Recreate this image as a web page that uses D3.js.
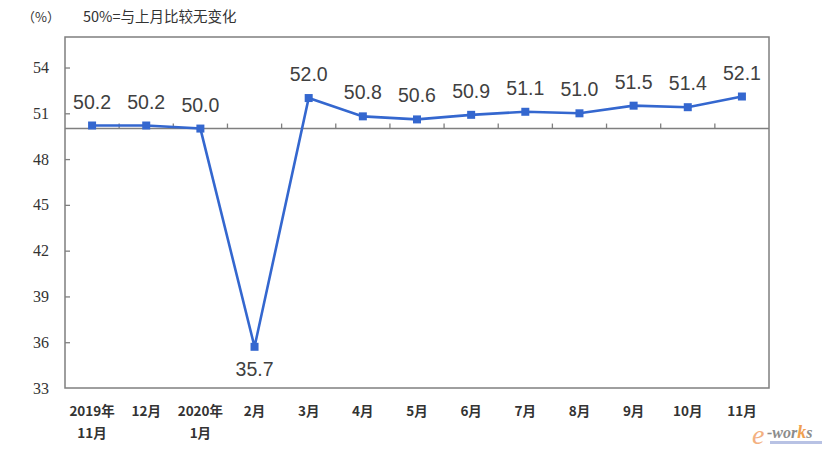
<!DOCTYPE html>
<html><head><meta charset="utf-8">
<script src="https://cdn.jsdelivr.net/npm/d3@7/dist/d3.min.js"></script>
<style>body{margin:0;background:#fff}</style>
</head><body>
<svg id="c" width="832" height="452"></svg>
<script>
const categories = [["2019年","11月"],["12月"],["2020年","1月"],["2月"],["3月"],["4月"],["5月"],["6月"],["7月"],["8月"],["9月"],["10月"],["11月"]];
const values = [50.2, 50.2, 50.0, 35.7, 52.0, 50.8, 50.6, 50.9, 51.1, 51.0, 51.5, 51.4, 52.1];
const yTicks = [33, 36, 39, 42, 45, 48, 51, 54];
const baseline = 50;
const titleUnit = "（%）";
const titleNote = "50%=与上月比较无变化";

const svg = d3.select("#c");
const L = 65, R = 769, T = 37, B = 388;
const x = d3.scaleBand().domain(d3.range(values.length)).range([L, R]);
const y = d3.scaleLinear().domain([33, 56]).range([B, T]);
const lineColor = "#3467cf";
const textColor = "#404040";

// title
svg.append("text").attr("x", 22).attr("y", 22).attr("font-family", "Noto Sans CJK SC").attr("font-size", 13).attr("fill", "#333").text(titleUnit);
svg.append("text").attr("x", 83).attr("y", 22).attr("font-family", "Noto Sans CJK SC").attr("font-size", 14.5).attr("fill", "#333").text(titleNote);

// frame
svg.append("rect").attr("x", L).attr("y", T).attr("width", R - L).attr("height", B - T)
  .attr("fill", "none").attr("stroke", "#7f7f7f").attr("stroke-width", 1.5);

// y axis
const yAxis = d3.axisLeft(y).tickValues(yTicks).tickSize(-5).tickPadding(16).tickFormat(d3.format("d"));
const gy = svg.append("g").attr("transform", `translate(${L},0)`).call(yAxis);
gy.attr("font-family", "Liberation Serif").attr("font-size", 16);
gy.select(".domain").remove();
gy.selectAll(".tick text").attr("fill", "#333");
gy.selectAll(".tick line").attr("stroke", "#7f7f7f").attr("stroke-width", 1.3)
  .filter(d => d === 33).remove();

// baseline axis at 50
svg.append("line").attr("x1", L).attr("x2", R).attr("y1", y(baseline)).attr("y2", y(baseline))
  .attr("stroke", "#7f7f7f").attr("stroke-width", 1.5);
const bounds = d3.range(1, values.length).map(i => x(i));
svg.append("g").selectAll("line").data(bounds).join("line")
  .attr("x1", d => d).attr("x2", d => d).attr("y1", y(baseline)).attr("y2", y(baseline) - 5)
  .attr("stroke", "#7f7f7f").attr("stroke-width", 1.3);

// category labels
const cx = i => x(i) + x.bandwidth() / 2;
const gc = svg.append("g");
categories.forEach((c, i) => {
  c.forEach((t, j) => {
    gc.append("text").attr("x", cx(i)).attr("y", 416 + j * 22).attr("text-anchor", "middle")
      .attr("font-family", "Noto Sans CJK SC").attr("font-weight", "bold").attr("font-size", 13.5)
      .attr("fill", "#333").text(t);
  });
});

// line
const line = d3.line().x((d, i) => cx(i)).y(d => y(d));
svg.append("path").datum(values).attr("d", line).attr("fill", "none")
  .attr("stroke", lineColor).attr("stroke-width", 2.6);
svg.append("g").selectAll("rect").data(values).join("rect")
  .attr("x", (d, i) => cx(i) - 4).attr("y", d => y(d) - 4).attr("width", 8).attr("height", 8)
  .attr("fill", lineColor);

// value labels
svg.append("g").selectAll("text").data(values).join("text")
  .attr("x", (d, i) => cx(i)).attr("y", d => d < baseline ? y(d) + 29 : y(d) - 17)
  .attr("text-anchor", "middle").attr("font-family", "Liberation Sans").attr("font-size", 19.5)
  .attr("fill", textColor).text(d => d.toFixed(1));

// watermark
const wm = svg.append("g");
wm.append("text").attr("x", 752).attr("y", 444).attr("font-family", "Liberation Serif").attr("font-style", "italic")
  .attr("font-size", 28).attr("fill", "#f2a36b").attr("opacity", 0.85).text("e");
wm.append("text").attr("x", 767).attr("y", 438).attr("font-family", "Liberation Serif").attr("font-style", "italic")
  .attr("font-weight", "bold").attr("font-size", 16).attr("fill", "#8c8c8c")
  .html('-wor<tspan fill="#f0a050" font-size="18">k</tspan>s');
wm.append("rect").attr("x", 770).attr("y", 441).attr("width", 52).attr("height", 3).attr("fill", "#9aa8d8").attr("opacity", 0.7);
</script>
</body></html>
